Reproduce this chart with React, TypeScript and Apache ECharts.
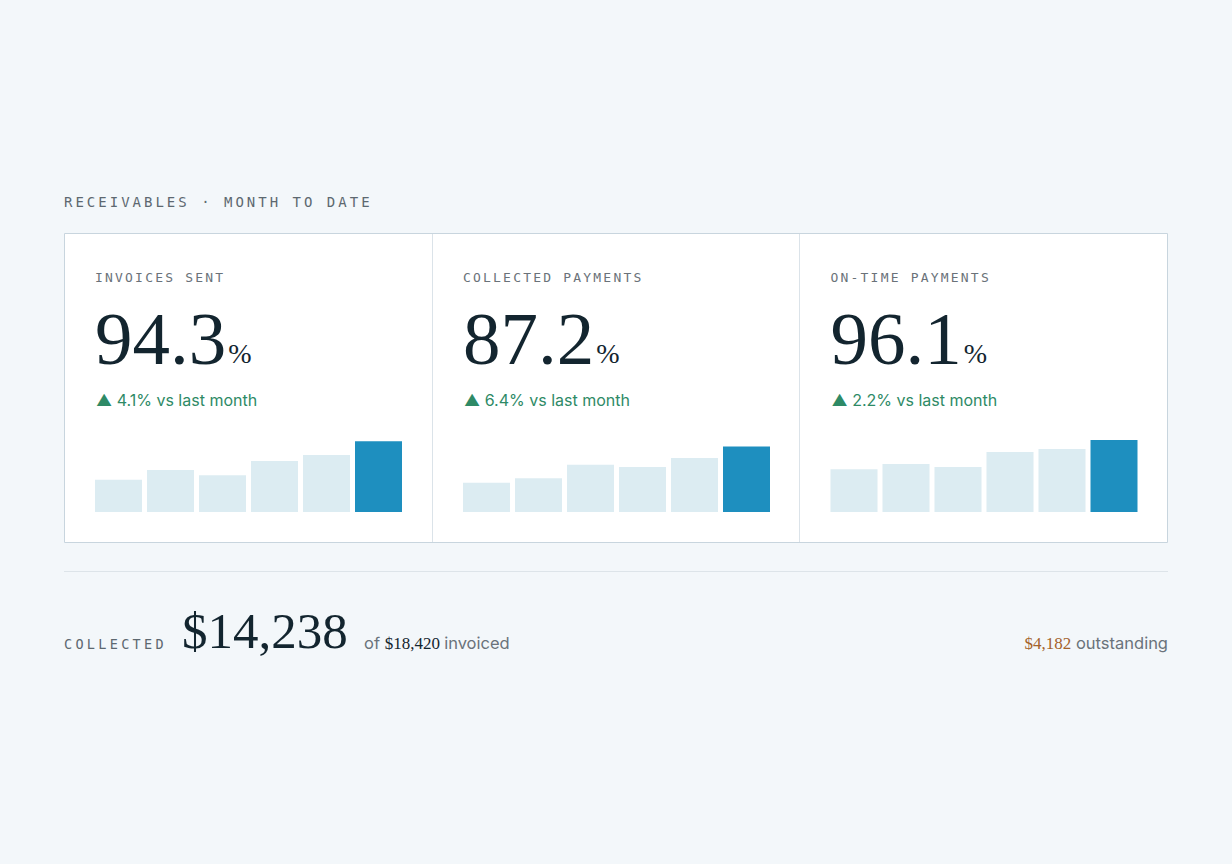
import React, { useEffect, useRef } from 'react';
import * as echarts from 'echarts';

// KPI cards
const cardTitles = ['INVOICES SENT', 'COLLECTED PAYMENTS', 'ON-TIME PAYMENTS'];
const cardValues = ['94.3', '87.2', '96.1'];
const cardDeltas = ['4.1%', '6.4%', '2.2%'];

// last six periods, current one last
const periods = ['P1', 'P2', 'P3', 'P4', 'P5', 'P6'];
const invoicesSent = [43, 56, 49, 68, 76, 94.3];
const collectedPayments = [39, 45, 63, 60, 72, 87.2];
const onTimePayments = [57, 64, 60, 80, 84, 96.1];
const cardSeries = [invoicesSent, collectedPayments, onTimePayments];

// summary row
const collectedAmount = '$14,238';
const invoicedAmount = '$18,420';
const outstandingAmount = '$4,182';

const MONO = '"DejaVu Sans Mono", monospace';
const SERIF = '"Liberation Serif", serif';
const SANS = 'Inter, "Noto Sans", sans-serif';

const INK = '#13252f';
const MUTED = '#5d6870';
const GREEN = '#2e8a66';
const BAR_LIGHT = '#dcecf2';
const BAR_DARK = '#1e8fbf';

const HEADER = 'RECEIVABLES · MONTH TO DATE';
const SUMMARY_LABEL = 'COLLECTED';

// letter-spacing per spaced label (svg attribute, zrender has none)
const spacing: Record<string, number> = {
  [HEADER]: 3.0,
  [SUMMARY_LABEL]: 3.3,
  ...Object.fromEntries(cardTitles.map(t => [t, 2.2]))
};

const measure = (() => {
  const ctx = document.createElement('canvas').getContext('2d')!;
  return (text: string, font: string) => {
    ctx.font = font;
    return ctx.measureText(text).width;
  };
})();

const App: React.FC = () => {
  const chartRef = useRef<HTMLDivElement>(null);

  useEffect(() => {
    if (!chartRef.current) return;
    const chart = echarts.init(chartRef.current, null, { renderer: 'svg' });

    const cardLeft = [64, 432, 799.5];
    const graphics: any[] = [];

    // card frame
    graphics.push({
      type: 'rect',
      shape: { x: 64.5, y: 233.5, width: 1103, height: 309 },
      style: { fill: '#ffffff', stroke: '#c8d5de', lineWidth: 1 },
      z: 0
    });
    [432.5, 799.5].forEach(x => {
      graphics.push({
        type: 'line',
        shape: { x1: x, y1: 234, x2: x, y2: 542 },
        style: { stroke: '#dbe3e9', lineWidth: 1 },
        z: 1
      });
    });

    graphics.push({
      type: 'text',
      x: 64,
      y: 202,
      style: { text: HEADER, font: `14px ${MONO}`, fill: MUTED, verticalAlign: 'middle' }
    });

    cardTitles.forEach((title, i) => {
      const x = cardLeft[i] + 31;
      const numFont = `75px ${SERIF}`;
      const numW = measure(cardValues[i], numFont);
      graphics.push(
        {
          type: 'text',
          x,
          y: 277,
          style: { text: title, font: `13px ${MONO}`, fill: '#6a7279', verticalAlign: 'middle' }
        },
        {
          type: 'text',
          x,
          y: 338,
          style: { text: cardValues[i], font: numFont, fill: INK, verticalAlign: 'middle' }
        },
        {
          type: 'text',
          x: x + numW + 2,
          y: 353,
          style: { text: '%', font: `28px ${SERIF}`, fill: INK, verticalAlign: 'middle' }
        },
        {
          type: 'text',
          x: x + 1,
          y: 400,
          style: {
            text: `▲ ${cardDeltas[i]} vs last month`,
            font: `16px ${SANS}`,
            fill: GREEN,
            verticalAlign: 'middle'
          }
        }
      );
    });

    // summary row
    graphics.push({
      type: 'line',
      shape: { x1: 64, y1: 571.5, x2: 1168, y2: 571.5 },
      style: { stroke: '#dde4e9', lineWidth: 1 }
    });
    graphics.push({
      type: 'text',
      x: 64,
      y: 644,
      style: { text: SUMMARY_LABEL, font: `13.5px ${MONO}`, fill: MUTED, verticalAlign: 'middle' }
    });
    const bigFont = `51px ${SERIF}`;
    graphics.push({
      type: 'text',
      x: 182,
      y: 631,
      style: { text: collectedAmount, font: bigFont, fill: INK, verticalAlign: 'middle' }
    });
    const smallSans = `16.5px ${SANS}`;
    const smallSerif = `17px ${SERIF}`;
    const sx = 364;
    const ofW = measure('of ', smallSans);
    const invW = measure(invoicedAmount + ' ', smallSerif);
    graphics.push(
      { type: 'text', x: sx, y: 643, style: { text: 'of', font: smallSans, fill: '#6a737b', verticalAlign: 'middle' } },
      { type: 'text', x: sx + ofW, y: 643, style: { text: invoicedAmount, font: smallSerif, fill: INK, verticalAlign: 'middle' } },
      { type: 'text', x: sx + ofW + invW, y: 643, style: { text: 'invoiced', font: smallSans, fill: '#6a737b', verticalAlign: 'middle' } }
    );
    const outW = measure(' outstanding', smallSans);
    graphics.push(
      {
        type: 'text',
        x: 1168,
        y: 643,
        style: { text: 'outstanding', font: smallSans, fill: '#6a737b', align: 'right', verticalAlign: 'middle' }
      },
      {
        type: 'text',
        x: 1168 - outW,
        y: 643,
        style: { text: outstandingAmount, font: smallSerif, fill: '#a4622b', align: 'right', verticalAlign: 'middle' }
      }
    );

    const grids = cardLeft.map(l => ({ left: l + 31 - 2.5, top: 437, width: 312, height: 75 }));

    const option: echarts.EChartsOption = {
      animation: false,
      backgroundColor: '#f3f7fa',
      grid: grids,
      xAxis: grids.map((_, i) => ({
        type: 'category',
        gridIndex: i,
        data: periods,
        show: false
      })),
      yAxis: grids.map((_, i) => ({
        type: 'value',
        gridIndex: i,
        min: 0,
        max: 100,
        show: false
      })),
      series: cardSeries.map((values, i) => ({
        type: 'bar',
        xAxisIndex: i,
        yAxisIndex: i,
        data: values,
        barWidth: 47,
        silent: true,
        z: 5,
        itemStyle: {
          color: (p: any) => (p.dataIndex === values.length - 1 ? BAR_DARK : BAR_LIGHT)
        }
      })),
      graphic: graphics
    };

    const applySpacing = () => {
      chartRef.current?.querySelectorAll('text').forEach(t => {
        const s = spacing[t.textContent || ''];
        if (s) t.setAttribute('letter-spacing', String(s));
      });
    };
    chart.on('finished', applySpacing);
    chart.setOption(option);
    applySpacing();
    const timer = setTimeout(applySpacing, 50);

    return () => {
      clearTimeout(timer);
      chart.dispose();
    };
  }, []);

  return (
    <div
      ref={chartRef}
      style={{ position: 'fixed', left: 0, top: 0, width: '1232px', height: '864px' }}
    />
  );
};

export default App;
